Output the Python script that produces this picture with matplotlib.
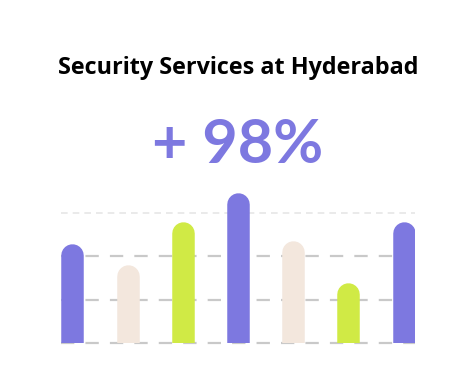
import numpy as np
import matplotlib.pyplot as plt

# bar heights (top of the rounded cap), grid lines every 25
positions = [0, 1, 2, 3, 4, 5, 6]
values = [57, 45, 70, 86.5, 59, 35, 70]
colors = ['#7D78E0', '#F3E7DD', '#D0EA45', '#7D78E0', '#F3E7DD', '#D0EA45', '#7D78E0']
grid_levels = [0, 25, 50, 75]

title = 'Security Services at Hyderabad'
headline = '+ 98%'

fig = plt.figure(figsize=(4.76, 3.88), dpi=100)
ax = fig.add_axes([61 / 476, 45 / 388, 354 / 476, 156 / 388])
ax.set_xlim(-0.205, 6.205)
ax.set_ylim(0, 90)
ax.axis('off')

# dashed guide lines behind the bars
for g in grid_levels:
    top = g == grid_levels[-1]
    ax.axhline(g, color='#E6E6E6' if top else '#C9C9C9', lw=1.2 if top else 1.6,
               ls=(0, (4, 3)) if top else (0, (6, 5)), zorder=1, clip_on=False)

# rounded bars: thick lines with round caps, bottom cap clipped by the axes
bar_w_px = 22.5
lw = bar_w_px * 72 / fig.dpi
r_px = bar_w_px / 2
fig.canvas.draw()
p0 = ax.transData.transform((0, 0))
p1 = ax.transData.transform((0, 1))
r_data = r_px / (p1[1] - p0[1])
for x, v, c in zip(positions, values, colors):
    ax.plot([x, x], [-10, v - r_data], color=c, lw=lw, solid_capstyle='round', zorder=2)

fig.text(0.5, 1 - 68 / 388, title, ha='center', va='center', fontsize=16.8,
         fontweight='bold', family='Open Sans', color='black')
fig.text(238 / 476, 1 - 145 / 388, headline, ha='center', va='center', fontsize=44,
         fontweight='bold', family='Lato', color='#7D78E0')

fig.savefig('out.png', dpi=100)
